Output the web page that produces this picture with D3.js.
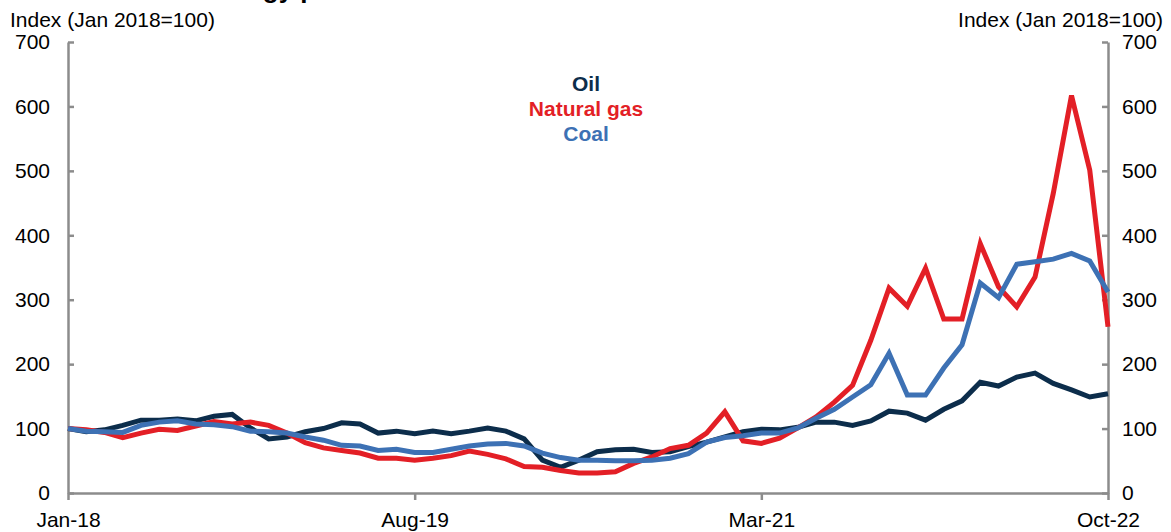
<!DOCTYPE html>
<html>
<head>
<meta charset="utf-8">
<script src="https://cdn.jsdelivr.net/npm/d3@7"></script>
<style>
  html, body { margin: 0; padding: 0; background: #fff; }
  svg { display: block; font-family: Arial, "Liberation Sans", sans-serif; }
</style>
</head>
<body>
<svg id="chart" width="1171" height="532"></svg>
<script>
// ---- Data (monthly, Jan-2018 .. Oct-2022, index Jan 2018 = 100) ----
const startYear = 2018, monthCount = 58;
const monthNames = ["Jan","Feb","Mar","Apr","May","Jun","Jul","Aug","Sep","Oct","Nov","Dec"];
const months = d3.range(monthCount).map(i =>
  monthNames[i % 12] + "-" + String((startYear + Math.floor(i / 12)) % 100).padStart(2, "0"));

const oil = [100,95,98,105,113,113,115,112,119,122,101,84,87,95,100,109,107,93,96,92,
             96,92,96,101,96,84,51,40,51,64,67,68,63,64,72,79,87,95,99,98,
             102,110,110,105,112,127,124,113,130,143,172,166,180,186,170,160,149,154];
const naturalGas = [100,98,94,86,93,99,97,104,111,107,110,105,93,78,70,66,62,54,54,51,
             54,58,65,60,53,41,40,35,31,31,33,46,56,69,74,93,126,81,77,85,
             101,118,141,167,237,318,290,349,270,270,387,320,289,335,465,617,501,258];
const coal = [100,96,95,94,105,110,112,107,106,103,96,95,93,87,82,74,73,66,68,63,
             63,68,73,76,77,73,62,55,51,51,50,50,51,54,61,79,86,89,93,93,
             101,116,130,149,168,217,152,152,194,230,326,303,355,359,363,372,360,312];

const seriesNames = ["Oil", "Natural gas", "Coal"];
const seriesColors = ["#0c2d4b", "#e31f26", "#3d71b4"];
const xTickLabels = ["Jan-18", "Aug-19", "Mar-21", "Oct-22"];
const yTicks = [0, 100, 200, 300, 400, 500, 600, 700];
const axisTitle = "Index (Jan 2018=100)";
const titleText = "Energy prices";

// ---- Layout ----
const svg = d3.select("#chart");
const plotL = 68, plotR = 1108, plotT = 42, plotB = 493;
const axisColor = "#8c8c8c";

svg.append("rect").attr("width", 1171).attr("height", 532).attr("fill", "#fff");

const x = d3.scalePoint().domain(months).range([plotL, plotR]).padding(0);
const y = d3.scaleLinear().domain([0, 700]).range([plotB, plotT]);

// clipped title (only descenders visible)
svg.append("text").attr("x", 205).attr("y", -2)
  .attr("font-size", 26).attr("font-weight", "bold").attr("fill", "#000")
  .text(titleText);

function styleAxis(g) {
  g.select(".domain").attr("stroke", axisColor).attr("stroke-width", 2.5);
  g.selectAll(".tick line").attr("stroke", axisColor).attr("stroke-width", 2.5);
  g.selectAll(".tick text").attr("fill", "#000").attr("font-size", 21)
    .attr("font-family", "Arial, 'Liberation Sans', sans-serif");
}

svg.append("g").attr("transform", `translate(${plotL},0)`)
  .call(d3.axisLeft(y).tickValues(yTicks).tickSizeInner(-6).tickSizeOuter(0).tickPadding(18))
  .call(styleAxis);

svg.append("g").attr("transform", `translate(${plotR},0)`)
  .call(d3.axisRight(y).tickValues(yTicks).tickSizeInner(-6).tickSizeOuter(0).tickPadding(14))
  .call(styleAxis);

// series lines
const data = [oil, naturalGas, coal];
const line = d3.line().x((d, i) => x(months[i])).y(d => y(d));
data.forEach((vals, k) => {
  svg.append("path").datum(vals)
    .attr("d", line)
    .attr("fill", "none")
    .attr("stroke", seriesColors[k])
    .attr("stroke-width", 5)
    .attr("stroke-linejoin", "miter")
    .attr("stroke-miterlimit", 4);
});

svg.append("g").attr("transform", `translate(0,${plotB})`)
  .call(d3.axisBottom(x).tickValues(xTickLabels).tickSizeInner(7).tickSizeOuter(0).tickPadding(12))
  .call(styleAxis);

// axis titles
svg.append("text").attr("x", 10).attr("y", 27).attr("font-size", 21).attr("fill", "#000").text(axisTitle);
svg.append("text").attr("x", 1163).attr("y", 27).attr("font-size", 21).attr("fill", "#000")
  .attr("text-anchor", "end").text(axisTitle);

// legend labels
const legendY = [91, 116, 141];
seriesNames.forEach((n, k) => {
  svg.append("text").attr("x", 586).attr("y", legendY[k])
    .attr("text-anchor", "middle").attr("font-size", 21).attr("font-weight", "bold")
    .attr("fill", seriesColors[k]).text(n);
});
</script>
</body>
</html>
